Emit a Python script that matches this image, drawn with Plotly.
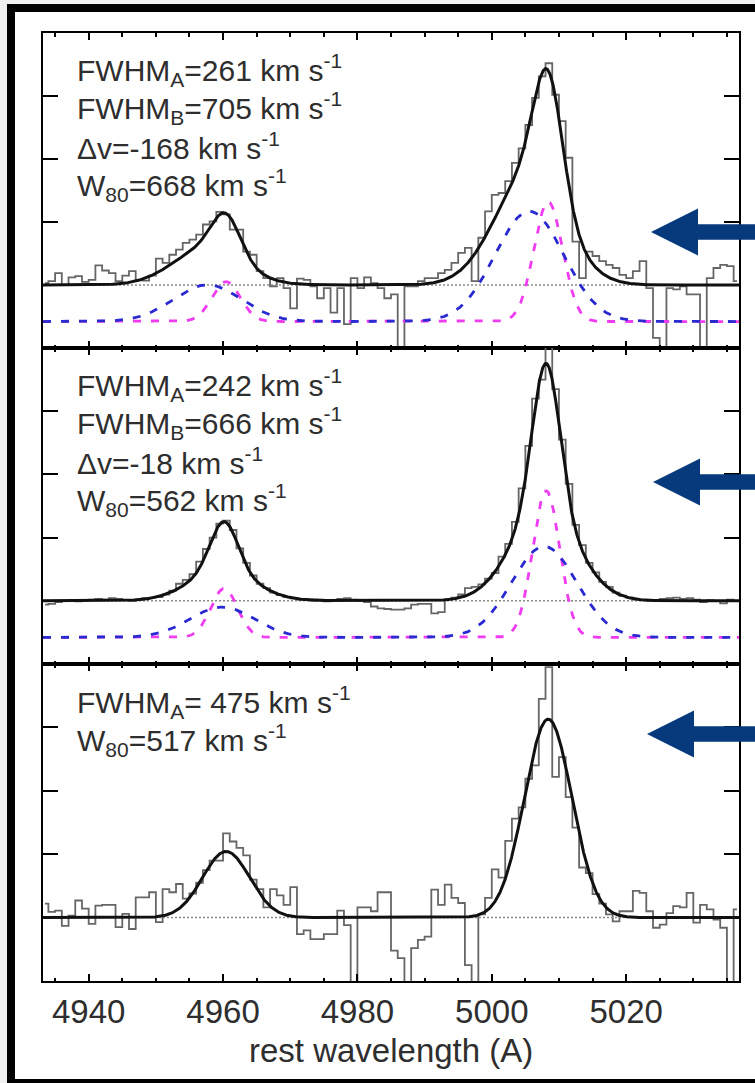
import numpy as np
import plotly.graph_objects as go

FIG_W, FIG_H = 755, 1083

# ---------------------------------------------------------------- data
WAVE_RANGE = [4933.2, 5036.8]          # rest wavelength window (A)
BIN_START, BIN_WIDTH, N_BINS = 4933.5, 1.0, 104
wave_bins = BIN_START + BIN_WIDTH * np.arange(N_BINS)

# observed [OIII] spectra (normalised flux per bin), one list per panel
FLUX_1 = [
    0.03, 0.06, 0.19, 0.00, 0.12, 0.14, 0.05, 0.08, 0.31, 0.23,
    0.19, 0.06, 0.15, 0.22, 0.08, 0.07, 0.15, 0.42, 0.35, 0.48,
    0.56, 0.67, 0.72, 0.80, 0.96, 1.01, 1.16, 1.12, 0.88, 0.88,
    0.53, 0.48, 0.22, 0.11, -0.02, 0.11, -0.05, -0.37, 0.10, 0.08,
    -0.02, -0.21, -0.05, -0.44, -0.05, -0.62, 0.11, -0.05, 0.12, 0.03,
    -0.05, -0.21, -0.15, -1.10, -0.02, -0.02, 0.06, 0.11, 0.11, 0.19,
    0.24, 0.35, 0.51, 0.59, 0.06, 0.75, 1.17, 1.43, 1.46, 1.65,
    1.94, 2.17, 2.54, 2.97, 3.31, 3.52, 3.02, 2.60, 2.02, 0.69,
    0.11, 0.53, 0.46, 0.38, 0.32, 0.27, 0.16, 0.11, 0.22, 0.38,
    -0.05, -0.84, -1.10, -0.05, -0.07, -0.02, -0.15, -0.15, -1.10, 0.11,
    0.27, 0.32, 0.30, 0.06,
]
FLUX_2 = [
    -0.06, -0.05, -0.02, 0.00, 0.01, -0.01, 0.00, 0.02, 0.03, 0.02,
    0.04, 0.03, 0.01, 0.00, 0.02, 0.04, 0.05, 0.06, 0.10, 0.16,
    0.27, 0.33, 0.42, 0.62, 0.82, 1.00, 1.22, 1.27, 1.12, 0.83,
    0.60, 0.40, 0.27, 0.20, 0.13, 0.09, 0.06, 0.04, 0.02, 0.01,
    0.00, 0.02, -0.01, 0.00, 0.03, 0.04, 0.02, 0.00, -0.02, -0.09,
    -0.12, -0.13, -0.14, -0.14, -0.12, -0.06, -0.05, -0.05, -0.20, -0.18,
    0.02, 0.05, 0.10, 0.20, 0.22, 0.26, 0.35, 0.44, 0.70, 0.90,
    1.25, 1.78, 2.45, 3.20, 3.50, 4.08, 3.35, 2.55, 1.85, 1.20,
    0.88, 0.60, 0.45, 0.30, 0.22, 0.13, 0.08, 0.05, 0.02, 0.01,
    0.00, 0.01, 0.03, 0.04, 0.05, 0.03, 0.04, 0.02, -0.02, 0.01,
    0.00, -0.04, 0.02, 0.00,
]
FLUX_3 = [
    0.22, 0.09, 0.11, -0.13, 0.03, 0.27, 0.14, -0.10, 0.19, 0.20,
    0.20, -0.15, 0.06, -0.18, 0.32, 0.32, 0.40, -0.07, 0.45, 0.40,
    0.53, 0.30, 0.38, 0.55, 0.75, 0.90, 0.90, 1.33, 1.20, 1.10,
    0.98, 0.60, 0.45, 0.16, 0.45, 0.35, 0.20, 0.48, -0.26, -0.20,
    -0.34, -0.34, -0.26, -0.26, 0.11, -0.12, -1.10, 0.16, 0.16, 0.10,
    0.40, 0.40, -0.52, -0.64, -1.10, -0.48, -0.35, -0.30, 0.44, 0.20,
    0.52, 0.31, 0.23, -0.75, -1.10, 0.05, 0.31, 0.76, 0.63, 1.21,
    1.56, 1.74, 2.19, 2.40, 3.45, 3.95, 2.22, 2.53, 1.90, 1.42,
    0.79, 0.70, 0.37, 0.22, 0.05, -0.06, 0.10, 0.10, 0.42, 0.39,
    0.10, -0.16, -0.11, 0.07, 0.18, 0.16, 0.39, -0.08, 0.20, 0.13,
    -0.03, -0.16, -1.10, 0.13,
]
FLUXES = [FLUX_1, FLUX_2, FLUX_3]

# Gaussian fit parameters per panel (component A narrow, B broad)
CENTER_A = [5008.4, 5008.1, 5008.4]     # A of [OIII]5007 (A)
AMP_A = [1.90, 2.32, 3.13]
FWHM_A_KMS = [261, 242, 475]
AMP_B = [1.75, 1.44, None]
FWHM_B_KMS = [705, 666, None]
DV_KMS = [-168, -18, None]
W80_KMS = [668, 562, 517]

INSTR_FWHM = 2.5                      # instrumental broadening (A)
LAMBDA_5007, LAMBDA_4959 = 5006.84, 4958.91
RATIO_4959 = 1.0 / 3.0
C_KMS = 299792.458
COMPONENT_OFFSET = -0.58              # vertical offset of the dashed components

# ---------------------------------------------------------------- layout geometry
X_DOMAIN = [43 / FIG_W, 739 / FIG_W]
PANEL_PX = [(33, 348), (348, 664), (664, 981)]   # top / bottom in px
Y_RANGE = [-1, 4]

TEXT_FONT = "Liberation Sans, Arial, Helvetica, sans-serif"
TEXT_COLOR = "#2e2e2e"
BLUE = "#2a2ad2"
MAGENTA = "#f03cf0"
ARROW_COLOR = "#063a7c"


def px_x(x):
    return x / FIG_W


def px_y(y):
    return 1 - y / FIG_H


def gauss(w, amp, cen, fwhm):
    sig = fwhm / 2.35482
    return amp * np.exp(-0.5 * ((w - cen) / sig) ** 2)


def obs_fwhm(fwhm_kms, cen):
    intrinsic = fwhm_kms / C_KMS * cen
    return np.sqrt(intrinsic ** 2 + INSTR_FWHM ** 2)


def component(w, amp, cen, fwhm_kms):
    """One kinematic component: 5007 line plus 4959 line tied to it."""
    fw = obs_fwhm(fwhm_kms, cen)
    cen_b = cen * LAMBDA_4959 / LAMBDA_5007
    return gauss(w, amp, cen, fw) + gauss(w, amp * RATIO_4959, cen_b, fw * LAMBDA_4959 / LAMBDA_5007)


fig = go.Figure()
model_w = np.linspace(WAVE_RANGE[0], WAVE_RANGE[1], 2000)

for k in range(3):
    xa = "x" if k == 0 else f"x{k + 1}"
    ya = "y" if k == 0 else f"y{k + 1}"

    comp_a = component(model_w, AMP_A[k], CENTER_A[k], FWHM_A_KMS[k])
    total = comp_a.copy()
    comp_b = None
    if AMP_B[k] is not None:
        cen_b = CENTER_A[k] + DV_KMS[k] / C_KMS * LAMBDA_5007
        comp_b = component(model_w, AMP_B[k], cen_b, FWHM_B_KMS[k])
        total = total + comp_b

    # observed spectrum
    fig.add_trace(go.Scatter(x=wave_bins, y=FLUXES[k], mode="lines",
                             line=dict(shape="hvh", color="#666666", width=1.8),
                             xaxis=xa, yaxis=ya, hoverinfo="skip"))
    # zero level
    fig.add_trace(go.Scatter(x=WAVE_RANGE, y=[0, 0], mode="lines",
                             line=dict(color="#8a8a8a", width=1.5, dash="2px,2px"),
                             xaxis=xa, yaxis=ya, hoverinfo="skip"))
    # individual components, shifted down
    if comp_b is not None:
        fig.add_trace(go.Scatter(x=model_w, y=comp_a + COMPONENT_OFFSET, mode="lines",
                                 line=dict(color=MAGENTA, width=2.8, dash="8px,10px"),
                                 xaxis=xa, yaxis=ya, hoverinfo="skip"))
        fig.add_trace(go.Scatter(x=model_w, y=comp_b + COMPONENT_OFFSET, mode="lines",
                                 line=dict(color=BLUE, width=2.8, dash="8px,10px"),
                                 xaxis=xa, yaxis=ya, hoverinfo="skip"))
    # total fit
    fig.add_trace(go.Scatter(x=model_w, y=total, mode="lines",
                             line=dict(color="#111111", width=3),
                             xaxis=xa, yaxis=ya, hoverinfo="skip"))

axis_common = dict(showline=True, linecolor="black", linewidth=2, mirror="allticks",
                   ticks="inside", tickcolor="black", tickwidth=2,
                   showgrid=False, zeroline=False)

layout_axes = {}
for k in range(3):
    top, bot = PANEL_PX[k]
    xname = "xaxis" if k == 0 else f"xaxis{k + 1}"
    yname = "yaxis" if k == 0 else f"yaxis{k + 1}"
    yanchor = "y" if k == 0 else f"y{k + 1}"
    xanchor = "x" if k == 0 else f"x{k + 1}"
    layout_axes[xname] = dict(
        axis_common, domain=X_DOMAIN, anchor=yanchor, range=WAVE_RANGE,
        tick0=4940, dtick=20, ticklen=7,
        minor=dict(dtick=5, ticks="inside", ticklen=3.5, tickwidth=1.5, tickcolor="black"),
        showticklabels=(k == 2),
        tickfont=dict(family=TEXT_FONT, size=33, color=TEXT_COLOR),
        ticklabelstandoff=0,
    )
    layout_axes[yname] = dict(
        axis_common, domain=[px_y(bot), px_y(top)], anchor=xanchor, range=Y_RANGE,
        tickvals=[1, 2, 3], ticklen=15, showticklabels=False,
    )

# ---------------------------------------------------------------- labels
def label_lines(k):
    lines = []
    if AMP_B[k] is not None:
        lines.append(f"FWHM<sub>A</sub>={FWHM_A_KMS[k]} km s<sup>-1</sup>")
        lines.append(f"FWHM<sub>B</sub>={FWHM_B_KMS[k]} km s<sup>-1</sup>")
        lines.append(f"\u0394v={DV_KMS[k]} km s<sup>-1</sup>")
    else:
        lines.append(f"FWHM<sub>A</sub>= {FWHM_A_KMS[k]} km s<sup>-1</sup>")
    lines.append(f"W<sub>80</sub>={W80_KMS[k]} km s<sup>-1</sup>")
    return lines


LINE_BASE = [80, 395, 712]     # baseline of first label line per panel (px)
LINE_STEP = 38.2

annotations = []
for k in range(3):
    for j, txt in enumerate(label_lines(k)):
        base = LINE_BASE[k] + j * LINE_STEP
        annotations.append(dict(
            text=txt, x=px_x(75), y=px_y(base - 10), xref="paper", yref="paper",
            xanchor="left", yanchor="middle", showarrow=False,
            font=dict(family=TEXT_FONT, size=30, color=TEXT_COLOR)))

annotations.append(dict(
    text="rest wavelength (A)", x=px_x(391), y=px_y(1050), xref="paper", yref="paper",
    xanchor="center", yanchor="middle", showarrow=False,
    font=dict(family=TEXT_FONT, size=33, color=TEXT_COLOR)))

# ---------------------------------------------------------------- shapes
shapes = [dict(type="rect", xref="paper", yref="paper",
               x0=px_x(11), x1=px_x(830), y0=px_y(1083), y1=px_y(8),
               line=dict(color="black", width=8), fillcolor="white", layer="below")]

ARROW_TIPS = [(651, 232), (653, 482), (647, 734)]
HEAD_LEN, HEAD_HALF, SHAFT_HALF, ARROW_END = 47, 23.5, 7.8, 830


def arrow_path(tx, ty):
    pts = [(tx, ty), (tx + HEAD_LEN, ty - HEAD_HALF), (tx + HEAD_LEN, ty - SHAFT_HALF),
           (ARROW_END, ty - SHAFT_HALF), (ARROW_END, ty + SHAFT_HALF),
           (tx + HEAD_LEN, ty + SHAFT_HALF), (tx + HEAD_LEN, ty + HEAD_HALF)]
    return "M " + " L ".join(f"{px_x(x):.5f},{px_y(y):.5f}" for x, y in pts) + " Z"


for tx, ty in ARROW_TIPS:
    shapes.append(dict(type="path", xref="paper", yref="paper", path=arrow_path(tx, ty),
                       fillcolor=ARROW_COLOR, line=dict(width=0), layer="above"))

fig.update_layout(
    width=FIG_W, height=FIG_H, margin=dict(l=0, r=0, t=0, b=0),
    paper_bgcolor="#f0f0f0", plot_bgcolor="white", showlegend=False,
    annotations=annotations, shapes=shapes, **layout_axes,
)

fig.write_html("out.html")
